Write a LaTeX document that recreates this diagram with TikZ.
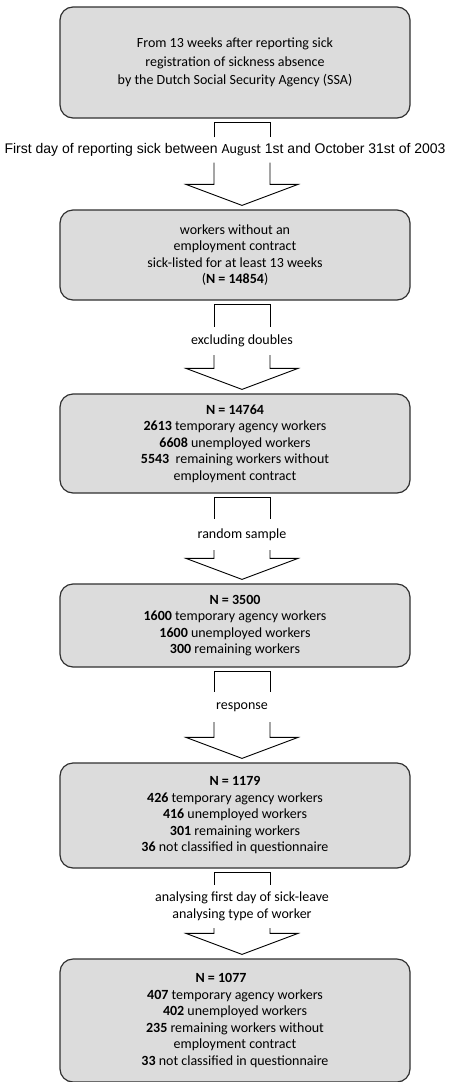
\documentclass[tikz,border=0pt]{standalone}
\usepackage{fontspec}
\setmainfont{Carlito}
\newfontfamily\arialf{Liberation Sans}
\usetikzlibrary{calc}
\definecolor{boxfill}{HTML}{DCDCDC}
\definecolor{boxedge}{HTML}{303030}
\tikzset{
  flowbox/.style={draw=boxedge, fill=boxfill, line width=1.2pt, rounded corners=13pt,
    minimum width=350pt, align=center, inner sep=0pt,
    font=\fontsize{14}{16.5}\selectfont},
  flowlabel/.style={align=center, inner sep=0pt, font=\fontsize{14}{16.5}\selectfont},
  arrowline/.style={draw=black, line width=0.9pt, line join=miter},
}
\newcommand\flowarrow[3]{%
  \draw[arrowline] (AL |- #2.north) -- ($(AL |- #1.south)+(0,4)$) -- ($(AR |- #1.south)+(0,4)$) -- (AR |- #2.north);
  \draw[arrowline] (AL |- #2.south) -- ($(AL |- #3.north)+(0,-25)$) -- ($(HL |- #3.north)+(0,-25)$)
     -- ($(AC |- #3.north)+(0,-4)$) -- ($(HR |- #3.north)+(0,-25)$) -- ($(AR |- #3.north)+(0,-25)$) -- (AR |- #2.south);
}
\begin{document}
\begin{tikzpicture}[x=1pt,y=-1pt]
\useasboundingbox (0,0) rectangle (448,1082);
\coordinate (AL) at (214,0);
\coordinate (AR) at (270,0);
\coordinate (HL) at (186,0);
\coordinate (HR) at (298,0);
\coordinate (AC) at (242,0);

\node[flowbox, minimum height=111pt, font=\fontsize{14}{18.5}\selectfont] (b1) at (235,62.5)
  {From 13 weeks after reporting sick\\registration of sickness absence\\by the Dutch Social Security Agency (SSA)};
\node[flowbox, minimum height=90pt] (b2) at (235,255)
  {workers without an\\employment contract\\sick-listed for at least 13 weeks\\(\textbf{N = 14854})};
\node[flowbox, minimum height=99pt] (b3) at (235,443.5)
  {\textbf{N = 14764}\\\textbf{2613} temporary agency workers\\\textbf{6608} unemployed workers\\\textbf{5543}\ \ remaining workers without\\employment contract};
\node[flowbox, minimum height=83pt] (b4) at (235,625.5)
  {\textbf{N = 3500}\\\textbf{1600} temporary agency workers\\\textbf{1600} unemployed workers\\\textbf{300} remaining workers};
\node[flowbox, minimum height=105pt] (b5) at (235,815.5)
  {\textbf{N = 1179}\\\textbf{426} temporary agency workers\\\textbf{416} unemployed workers\\\textbf{301} remaining workers\\\textbf{36} not classified in questionnaire};
\node[flowbox, minimum height=123pt] (b6) at (235,1020.5)
  {\textbf{N = 1077}\hspace*{28pt}\\\textbf{407} temporary agency workers\\\textbf{402} unemployed workers\\\textbf{235} remaining workers without\\employment contract\\\textbf{33} not classified in questionnaire};

\node[flowlabel, minimum height=25pt, font=\arialf\fontsize{14}{16.5}\selectfont] (l1) at (225,150)
  {First day of reporting sick between {\rmfamily August} 1st and October 31st of 2003};
\node[flowlabel, minimum height=28pt] (l2) at (242,341) {excluding doubles};
\node[flowlabel, minimum height=31pt] (l3) at (242,534.5) {random sample};
\node[flowlabel, minimum height=30pt] (l4) at (242,707) {response};
\node[flowlabel, minimum height=43pt] (l5) at (242,906.5) {analysing first day of sick-leave\\analysing type of worker};

\flowarrow{b1}{l1}{b2}
\flowarrow{b2}{l2}{b3}
\flowarrow{b3}{l3}{b4}
\flowarrow{b4}{l4}{b5}
\flowarrow{b5}{l5}{b6}
\end{tikzpicture}
\end{document}
